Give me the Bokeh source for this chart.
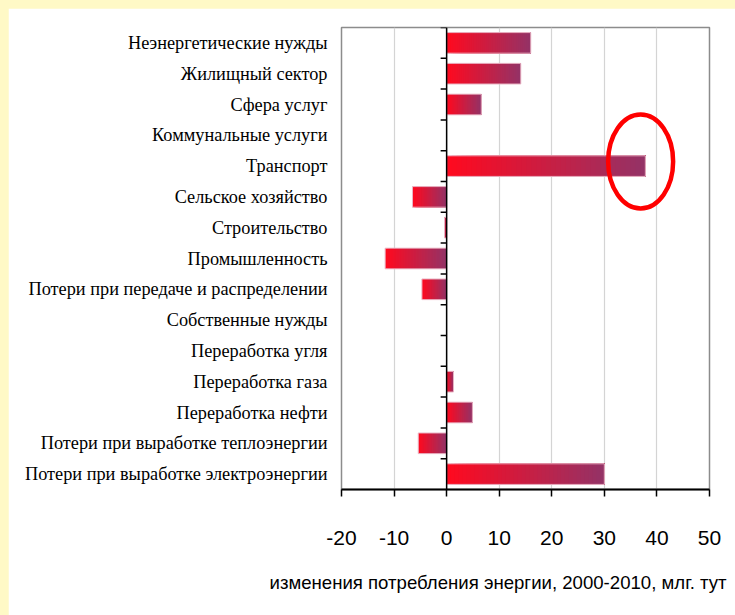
import numpy as np
from bokeh.plotting import figure
from bokeh.models import Range1d, FixedTicker, Title
from bokeh.embed import file_html
from bokeh.resources import INLINE

# ---- data ----
categories = [
    "Неэнергетические нужды",
    "Жилищный сектор",
    "Сфера услуг",
    "Коммунальные услуги",
    "Транспорт",
    "Сельское хозяйство",
    "Строительство",
    "Промышленность",
    "Потери при передаче и распределении",
    "Собственные нужды",
    "Переработка угля",
    "Переработка газа",
    "Переработка нефти",
    "Потери при выработке теплоэнергии",
    "Потери при выработке электроэнергии",
]
values = [16.0, 14.1, 6.6, 0.0, 37.8, -6.5, -0.4, -11.7, -4.7, 0.0, 0.0, 1.3, 4.9, -5.4, 30.0]
x_ticks = [-20, -10, 0, 10, 20, 30, 40, 50]
x_tick_labels = ["-20", "-10", "0", "10", "20", "30", "40", "50"]
x_title = "изменения потребления энергии, 2000-2010, млг. тут"
highlight_category = "Транспорт"

# ---- styles ----
SERIF = "Liberation Serif"
SANS = "'Liberation Sans Narrow', 'Arial Narrow', 'Liberation Sans', sans-serif"
C_START = np.array([0xFF, 0x0A, 0x20])
C_END = np.array([0x95, 0x33, 0x66])
N_SLICES = 40
BAR_H = 0.67

n = len(categories)
centers = [i + 0.5 for i in range(n)]

p = figure(
    width=727, height=607,
    x_range=Range1d(-20, 50), y_range=Range1d(n, 0),
    output_backend="svg", toolbar_location=None,
    min_border_left=333, min_border_right=26, min_border_top=19, min_border_bottom=126,
    background_fill_color="white", border_fill_color="white",
)
p.outline_line_color = "#8c8c8c"
p.outline_line_width = 1.5

# gradient bars built from overlapping slices (each runs to the bar end)
ls, rs, ys, cs = [], [], [], []
ol, orr, oy = [], [], []
for i, v in enumerate(values):
    if v == 0:
        continue
    a, b = min(0.0, v), max(0.0, v)
    for k in range(N_SLICES):
        t = k / (N_SLICES - 1)
        c = (C_START * (1 - t) + C_END * t).astype(int)
        ls.append(a + (b - a) * k / N_SLICES)
        rs.append(b)
        ys.append(centers[i])
        cs.append("#%02x%02x%02x" % tuple(c))
    ol.append(a); orr.append(b); oy.append(centers[i])

p.hbar(y=ys, left=ls, right=rs, height=BAR_H, fill_color=cs, line_color=None)
p.hbar(y=oy, left=ol, right=orr, height=BAR_H, fill_color=None,
       line_color="#eab7c6", line_width=1)

# vertical axis line at zero with boundary ticks
p.segment(x0=[0], y0=[0], x1=[0], y1=[n], line_color="black", line_width=1.5)
p.ray(x=[0] * n, y=list(range(n)), length=6, angle=np.pi,
      length_units="screen", line_color="black", line_width=1.5)

# highlight ellipse around transport bar
hi = categories.index(highlight_category)
p.ellipse(x=[values[hi] - 0.9], y=[centers[hi] - 0.15], width=65, height=94,
          width_units="screen", height_units="screen",
          fill_color=None, line_color="#ff0000", line_width=4.5)

# x axis
xa = p.xaxis[0]
xa.ticker = FixedTicker(ticks=x_ticks)
xa.major_label_overrides = {t: s for t, s in zip(x_ticks, x_tick_labels)}
xa.major_tick_out = 7
xa.major_tick_in = 0
xa.minor_tick_out = 0
xa.minor_tick_in = 0
xa.axis_line_color = "black"
xa.axis_line_width = 2
xa.major_tick_line_color = "black"
xa.major_tick_line_width = 1.5
xa.major_label_text_font = SANS
xa.major_label_text_font_size = "21px"
xa.major_label_text_color = "black"
xa.major_label_standoff = 34

# y axis (labels only)
ya = p.yaxis[0]
ya.ticker = FixedTicker(ticks=centers)
ya.major_label_overrides = {c: lab for c, lab in zip(centers, categories)}
ya.axis_line_color = None
ya.major_tick_line_color = None
ya.minor_tick_line_color = None
ya.major_label_text_font = SERIF
ya.major_label_text_font_size = "18.3px"
ya.major_label_text_color = "black"
ya.major_label_standoff = 8

p.xgrid.ticker = FixedTicker(ticks=x_ticks)
p.xgrid.grid_line_color = "#d4d4d4"
p.xgrid.grid_line_width = 1.2
p.ygrid.grid_line_color = None

p.add_layout(Title(text=x_title, align="left", offset=-72, standoff=44,
                   text_font=SANS, text_font_size="18.6px", text_font_style="normal",
                   text_color="black"), "below")

html = file_html(p, INLINE, title="chart")
css = ("<style>html{background:#fff9c6 !important;overflow:hidden !important;}"
       "body{margin:8px 0 0 8px !important;background:#fff9c6 !important;"
       "height:auto !important;}</style></head>")
html = html.replace("</head>", css, 1)
open("out.html", "w").write(html)
